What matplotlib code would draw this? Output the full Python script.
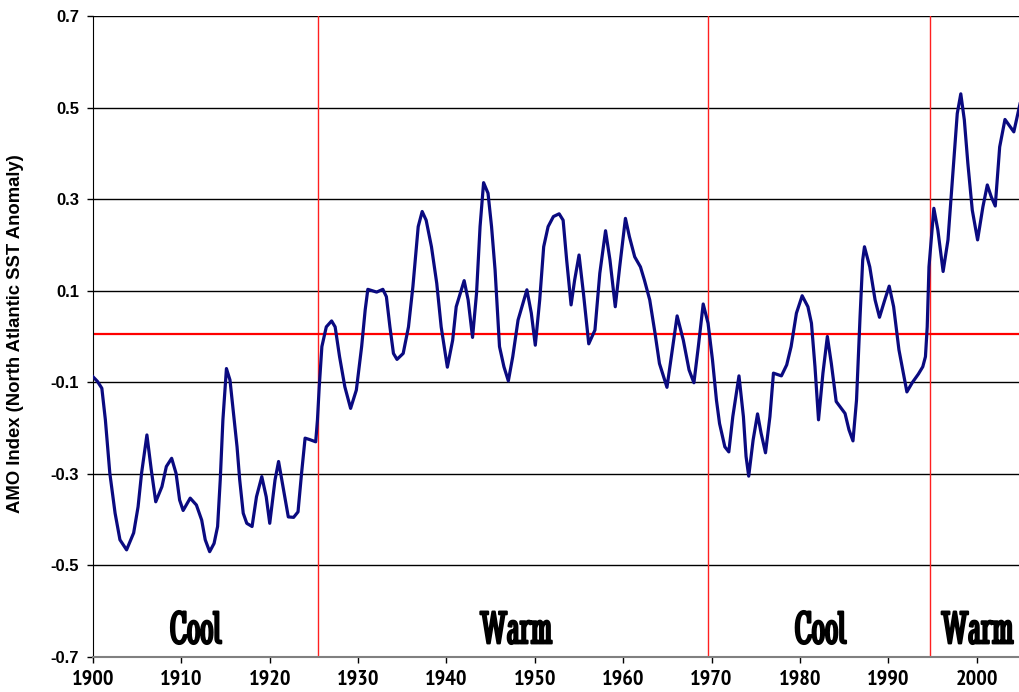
import matplotlib
matplotlib.use("Agg")
import matplotlib.pyplot as plt
from matplotlib import font_manager as fm
from matplotlib import patheffects as pe

years = [
    1900.0, 1900.5, 1901.0, 1901.4, 1901.9, 1902.5, 1903.05, 1903.8, 1904.6, 1905.1,
    1905.5, 1906.1, 1906.6, 1907.1, 1907.8, 1908.3, 1908.9, 1909.4, 1909.8, 1910.2,
    1911.0, 1911.7, 1912.3, 1912.7, 1913.2, 1913.7, 1914.1, 1914.4, 1914.7, 1915.1,
    1915.5, 1915.9, 1916.3, 1916.6, 1917.0, 1917.4, 1918.0, 1918.5, 1919.1, 1919.6,
    1920.0, 1920.6, 1921.0, 1921.5, 1922.1, 1922.7, 1923.2, 1923.6, 1924.0, 1924.5,
    1925.2, 1925.4, 1925.6, 1925.9, 1926.4, 1927.0, 1927.4, 1927.9, 1928.5, 1929.15,
    1929.8, 1930.4, 1930.8, 1931.1, 1931.6, 1932.1, 1932.8, 1933.2, 1933.6, 1934.0,
    1934.4, 1935.1, 1935.7, 1936.2, 1936.8, 1937.25, 1937.7, 1938.3, 1938.9, 1939.4,
    1940.1, 1940.7, 1941.1, 1942.0, 1942.45, 1942.95, 1943.4, 1943.8, 1944.2, 1944.7,
    1945.1, 1945.5, 1946.0, 1946.5, 1947.0, 1947.5, 1948.1, 1949.1, 1949.6, 1950.05,
    1950.55, 1951.0, 1951.5, 1952.1, 1952.75, 1953.2, 1953.6, 1954.1, 1954.5, 1955.0,
    1955.5, 1956.1, 1956.8, 1957.35, 1958.0, 1958.5, 1959.1, 1959.6, 1960.25, 1960.7,
    1961.3, 1961.95, 1962.4, 1963.0, 1963.6, 1964.1, 1964.95, 1965.5, 1966.1, 1966.8,
    1967.45, 1968.0, 1968.5, 1969.05, 1969.6, 1970.1, 1970.55, 1970.9, 1971.5, 1971.95,
    1972.4, 1973.1, 1973.6, 1973.9, 1974.2, 1974.7, 1975.2, 1975.6, 1976.1, 1976.6,
    1977.0, 1977.9, 1978.5, 1979.0, 1979.6, 1980.25, 1980.9, 1981.3, 1981.7, 1982.1,
    1982.6, 1983.1, 1983.55, 1984.1, 1985.1, 1985.55, 1986.0, 1986.4, 1986.8, 1987.1,
    1987.3, 1987.9, 1988.5, 1989.0, 1989.6, 1990.1, 1990.6, 1991.2, 1992.1, 1992.7,
    1993.4, 1993.9, 1994.2, 1994.4, 1994.6, 1995.15, 1995.6, 1996.2, 1996.75, 1997.3,
    1997.8, 1998.2, 1998.6, 1999.0, 1999.5, 2000.1, 2000.7, 2001.2, 2001.65, 2002.1,
    2002.6, 2003.2, 2003.65, 2004.2, 2004.9,
]
amo = [
    -0.088, -0.098, -0.113, -0.182, -0.298, -0.386, -0.444, -0.466, -0.429, -0.372,
    -0.298, -0.215, -0.292, -0.361, -0.328, -0.284, -0.266, -0.299, -0.357, -0.380,
    -0.353, -0.368, -0.401, -0.444, -0.470, -0.452, -0.415, -0.313, -0.182, -0.070,
    -0.095, -0.168, -0.241, -0.313, -0.386, -0.408, -0.415, -0.350, -0.306, -0.350,
    -0.408, -0.313, -0.273, -0.328, -0.394, -0.395, -0.383, -0.299, -0.222, -0.225,
    -0.230, -0.182, -0.110, -0.022, 0.021, 0.034, 0.021, -0.044, -0.110, -0.157,
    -0.117, -0.022, 0.058, 0.103, 0.100, 0.097, 0.103, 0.087, 0.021, -0.037,
    -0.050, -0.037, 0.021, 0.109, 0.240, 0.273, 0.254, 0.196, 0.116, 0.021,
    -0.067, -0.008, 0.065, 0.122, 0.080, -0.002, 0.094, 0.240, 0.336, 0.313,
    0.240, 0.145, -0.022, -0.066, -0.097, -0.044, 0.036, 0.102, 0.051, -0.019,
    0.080, 0.196, 0.240, 0.262, 0.268, 0.254, 0.167, 0.069, 0.123, 0.178,
    0.094, -0.016, 0.014, 0.138, 0.231, 0.167, 0.065, 0.152, 0.258, 0.218,
    0.174, 0.152, 0.123, 0.080, 0.007, -0.059, -0.111, -0.037, 0.045, -0.008,
    -0.073, -0.101, -0.022, 0.071, 0.029, -0.051, -0.139, -0.190, -0.241, -0.252,
    -0.175, -0.086, -0.175, -0.262, -0.305, -0.226, -0.169, -0.211, -0.254, -0.175,
    -0.080, -0.086, -0.062, -0.022, 0.051, 0.089, 0.065, 0.029, -0.066, -0.182,
    -0.080, 0.000, -0.059, -0.142, -0.168, -0.204, -0.228, -0.139, 0.043, 0.167,
    0.196, 0.152, 0.080, 0.042, 0.080, 0.110, 0.065, -0.029, -0.121, -0.101,
    -0.082, -0.066, -0.044, 0.021, 0.152, 0.280, 0.233, 0.142, 0.211, 0.356,
    0.487, 0.530, 0.473, 0.378, 0.276, 0.211, 0.283, 0.331, 0.305, 0.285,
    0.414, 0.474, 0.462, 0.447, 0.508,
]

x_ticks = [1900, 1910, 1920, 1930, 1940, 1950, 1960, 1970, 1980, 1990, 2000]
y_ticks = [-0.7, -0.5, -0.3, -0.1, 0.1, 0.3, 0.5, 0.7]
y_tick_labels = ["-0.7", "-0.5", "-0.3", "-0.1", "0.1", "0.3", "0.5", "0.7"]
regime_breaks = [1925.5, 1969.6, 1994.7]
mean_level = 0.005
regime_labels = ["Cool", "Warm", "Cool", "Warm"]
regime_label_x = [1911.6, 1947.9, 1982.3, 2000.1]
regime_label_y = -0.645
y_label = "AMO Index (North Atlantic SST Anomaly)"


def find_font(candidates, fallback_family, fallback_weight="bold"):
    files = {f.fname.split("/")[-1]: f.fname for f in fm.fontManager.ttflist}
    for c in candidates:
        if c in files:
            return fm.FontProperties(fname=files[c])
    return fm.FontProperties(family=fallback_family, weight=fallback_weight)


fp_regime = find_font(["StintUltraCondensed-Regular.ttf", "DejaVuSerifCondensed-Bold.ttf"],
                      "Liberation Serif")
fp_xtick = find_font(["PT_Sans-Narrow-Web-Bold.ttf", "RobotoCondensed-Bold.ttf",
                      "DejaVuSansCondensed-Bold.ttf"], "DejaVu Sans")
fp_ytick = find_font(["LiberationSans-Bold.ttf"], "DejaVu Sans")
fp_ylabel = find_font(["LiberationSans-Bold.ttf"], "DejaVu Sans")

fig = plt.figure(figsize=(10.2, 6.92), dpi=100)
ax = fig.add_axes([93/1020, 35/692, 927/1020, 641/692])

for yt in y_ticks:
    ax.axhline(yt, color="black", lw=1.0, zorder=1)
for xb in regime_breaks:
    ax.axvline(xb, color="#ff2020", lw=1.0, zorder=2)
ax.axhline(mean_level, color="#ff0000", lw=1.6, zorder=2)

ax.plot(years, amo, color="#0a0a80", lw=2.3, zorder=3, solid_joinstyle="round")

for t, xpos in zip(regime_labels, regime_label_x):
    txt = ax.text(xpos, regime_label_y, t, ha="center", va="center",
                  fontproperties=fp_regime, color="black", zorder=4)
    txt.set_fontsize(34)
    txt.set_path_effects([pe.withStroke(linewidth=1.6, foreground="black")])

ax.set_xlim(1900, 2004.9)
ax.set_ylim(-0.7, 0.7)
ax.set_xticks(x_ticks)
ax.set_xticklabels([str(v) for v in x_ticks])
for lab in ax.get_xticklabels():
    lab.set_fontproperties(fp_xtick)
    lab.set_fontsize(16)
ax.set_yticks(y_ticks)
ax.set_yticklabels(y_tick_labels)
for lab in ax.get_yticklabels():
    lab.set_fontproperties(fp_ytick)
    lab.set_fontsize(12)
ax.tick_params(axis="y", direction="out", length=4, width=1, pad=6, colors="black")
ax.tick_params(axis="x", direction="out", length=4, width=1, pad=5.5, colors="black")
ax.set_ylabel(y_label, fontproperties=fp_ylabel)
ax.yaxis.label.set_fontsize(13.3)
ax.yaxis.set_label_coords((24 - 93)/927, 0.505)

for s in ["top", "right"]:
    ax.spines[s].set_visible(False)
ax.spines["left"].set_color("black")
ax.spines["bottom"].set_color("#808080")
ax.spines["bottom"].set_linewidth(1.5)
ax.set_facecolor("white")
fig.patch.set_facecolor("white")

fig.savefig("out.png", dpi=100)
